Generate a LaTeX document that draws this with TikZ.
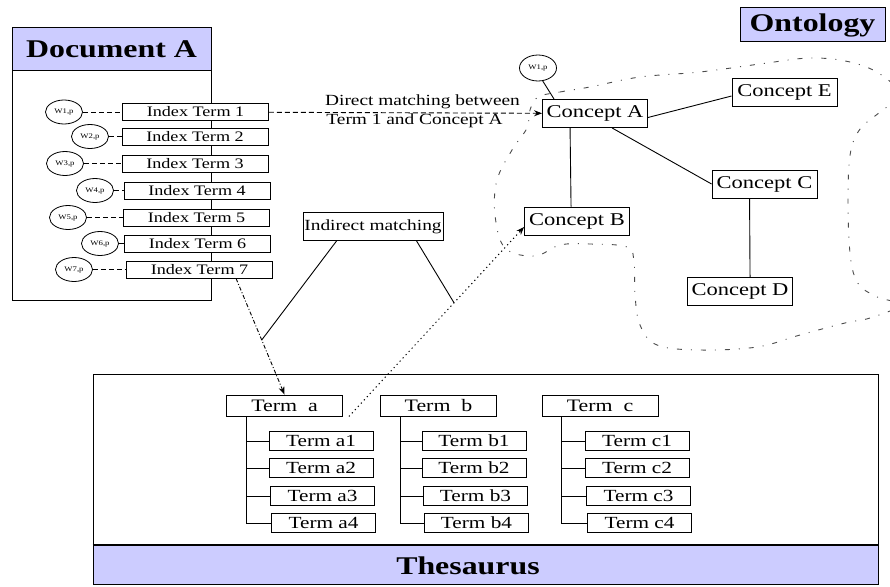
\documentclass[tikz,border=0pt]{standalone}
\usepackage{fontspec}
\setmainfont{Liberation Serif}[FakeStretch=1.25]
\usetikzlibrary{arrows.meta,calc,shapes.geometric}
\definecolor{lav}{RGB}{204,204,255}
\newcommand\fsz[1]{\fontsize{#1}{#1}\selectfont}
\begin{document}
\begin{tikzpicture}[x=1pt,y=-1pt,
  box/.style={draw, line width=0.9pt, fill=white, inner sep=0pt, align=center},
  idx/.style={box, minimum width=146pt, minimum height=17pt, font=\fsz{14.5}},
  wc/.style={draw, ellipse, line width=0.8pt, fill=white, minimum width=37pt, minimum height=24pt, inner sep=0pt, font=\fsz{7}},
  concept/.style={box, minimum width=105pt, minimum height=28pt, font=\fsz{18}},
  term/.style={box, minimum width=116pt, minimum height=21pt, font=\fsz{17.5}},
  subterm/.style={box, minimum width=104pt, minimum height=19pt, font=\fsz{17}},
  hdr/.style={draw, line width=1pt, fill=lav, inner sep=0pt, font=\fsz{25.5}\bfseries},
  lbl/.style={inner sep=0pt, font=\fsz{15.5}},
  wl/.style={line width=0.8pt, dash pattern=on 5pt off 3pt},
  dline/.style={line width=0.9pt, dash pattern=on 5pt off 3pt, -{Stealth[length=8pt,width=6pt]}},
  ddline/.style={line width=0.9pt, dash pattern=on 4pt off 2pt on 1pt off 2pt, -{Stealth[length=8pt,width=6pt]}},
  dotline/.style={line width=1pt, dash pattern=on 1.2pt off 3.2pt, -{Stealth[length=8pt,width=6pt]}},
  blob/.style={line width=0.9pt, black!70, dash pattern=on 5pt off 9pt on 1pt off 9pt},
  link/.style={line width=0.9pt}]
\useasboundingbox (0,0) rectangle (890,586);
\fill[white] (0,0) rectangle (890,586);

% ---------------- Ontology outline
\draw[blob] plot[smooth cycle, tension=0.6] coordinates {
 (538,97) (560,92) (590,87) (640,77) (700,72) (760,64) (810,58) (850,62) (880,74) (900,95)
 (880,112) (858,132) (849,165) (849,240) (856,280) (875,296) (900,305) (870,318) (845,323)
 (800,335) (757,347) (700,350) (657,345) (640,325) (635,295) (634,262) (627,247) (590,244)
 (560,245) (535,256) (505,248) (495,215) (497,180) (512,150) (527,128) (530,110)};

% ---------------- Document A
\node[draw, line width=1pt, minimum width=199pt, minimum height=272pt, inner sep=0pt] (docbox) at (111.5,164) {};
\node[hdr, minimum width=199pt, minimum height=42pt] (docA) at (111.5,49) {Document A};
\foreach \i/\x/\y/\wx in {1/195.5/112/64,2/195/136.5/90,3/195/163.5/65,4/197/190.5/95,5/196.5/217.5/68,6/197.5/243.5/100,7/199.5/269.5/74}{
  \node[idx] (it\i) at (\x,\y) {Index Term \i};
  \node[wc] (w\i) at (\wx,\y) {W\i,p};
  \draw[wl] (w\i) -- (it\i);
}

% ---------------- Ontology
\node[hdr, minimum width=145pt, minimum height=34pt] (onto) at (812.5,25) {Ontology};
\node[concept] (cA) at (595,113.5) {Concept A};
\node[concept] (cE) at (784.5,92) {Concept E};
\node[concept] (cB) at (577,221) {Concept B};
\node[concept] (cC) at (764.5,184) {Concept C};
\node[concept] (cD) at (740,291.5) {Concept D};
\node[wc, minimum height=26pt] (wA) at (538,68) {W1,p};
\draw[link] (wA.290) -- ($(cA.north west)+(12,0)$);
\draw[link] ($(cA.east)+(0,4)$) -- ($(cE.west)+(0,4)$);
\draw[link] ($(cA.south west)+(28,0)$) -- ($(cB.north west)+(47,0)$);
\draw[link] ($(cA.south west)+(70,0)$) -- (cC.west);
\draw[link] ($(cC.south west)+(38,0)$) -- ($(cD.north west)+(63,0)$);

% ---------------- Thesaurus
\node[draw, line width=1pt, minimum width=785pt, minimum height=210pt, inner sep=0pt] (thes) at (485.5,479) {};
\node[hdr, line width=0.8pt, minimum width=785pt, minimum height=39pt] (thesh) at (485.5,564.5) {};
\draw[line width=2pt] (thesh.north west) -- (thesh.north east);
\node[inner sep=0pt, font=\fsz{25.5}\bfseries] (thest) at (468,566) {Thesaurus};

\node[term] (ta) at (284.5,405.5) {Term\ \ a};
\node[term] (tb) at (438.5,405.5) {Term\ \ b};
\node[term] (tc) at (600,405.5) {Term\ \ c};
\foreach \t/\x in {a/321,b/474,c/637}{
  \node[subterm] (\t1) at (\x,441) {Term \t1};
  \node[subterm] (\t2) at (\x,468) {Term \t2};
  \node[subterm] (\t3) at ($(\x,496)+(1.5,0)$) {Term \t3};
  \node[subterm] (\t4) at ($(\x,523)+(2.5,0)$) {Term \t4};
  \coordinate (\t0) at ($(t\t.south west)+(20,0)$);
  \draw[link] (\t0) |- (\t4.west);
  \foreach \k in {1,2,3}{\draw[link] (\t\k.west) -- (\t\k.west -| \t0);}
}

% ---------------- Matching connectors
\draw[dline] (it1) -- (cA);
\node[lbl] (dm1) at (422.5,102) {Direct matching between};
\node[lbl] (dm2) at (414.5,121) {Term 1 and Concept A};

\draw[ddline] ($(it7.south west)+(110,0)$) -- coordinate[pos=0.53] (p1) (ta.north);
\draw[dotline] ($(ta.south east)+(6,0)$) -- coordinate[pos=0.6] (p2) ($(cB.west)+(0,6)$);

\node[box, minimum width=140pt, minimum height=28pt, font=\fsz{15.5}] (im) at (373,226.5) {Indirect matching};
\draw[link] ($(im.south west)+(34,0)$) -- (p1);
\draw[link] ($(im.south west)+(114,0)$) -- (p2);
\end{tikzpicture}
\end{document}
